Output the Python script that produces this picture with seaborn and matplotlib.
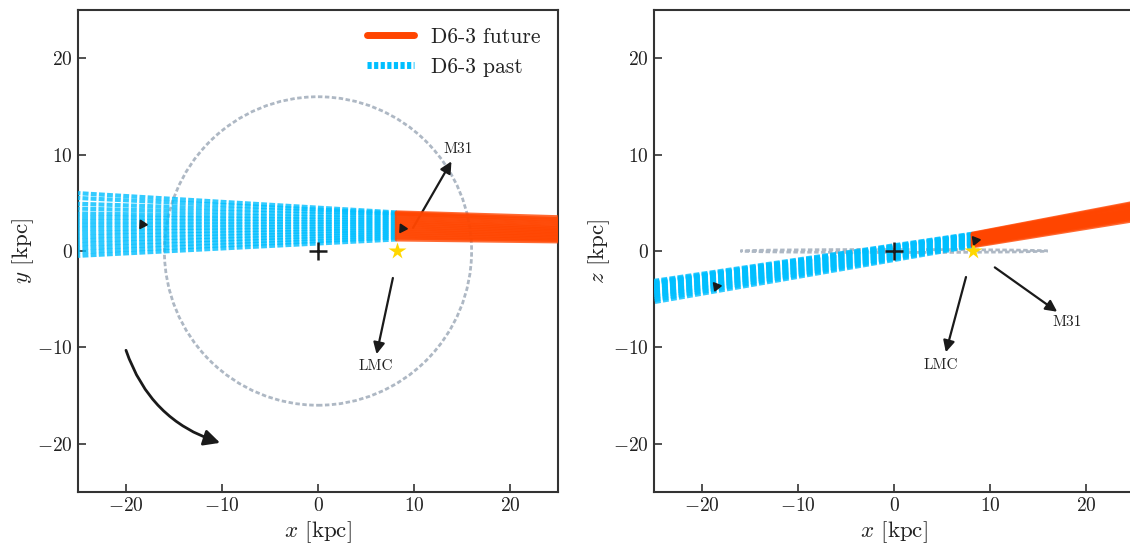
import numpy as np
import pandas as pd
import seaborn as sns
import matplotlib.pyplot as plt
from matplotlib.lines import Line2D
from matplotlib.patches import Ellipse


# ------------------------------------------------------------------
# Values (kpc)
# ------------------------------------------------------------------
x_now = 8.2          # present position of D6-3 along x
x_past_end = -25.0   # where the past orbits leave the frame
x_future_end = 25.0  # where the future orbits leave the frame

# x-y plane : y at present / at x=-25 (past) / at x=25 (future)
xy_now = [1.2, 1.4, 1.6, 1.8, 2.0, 2.2, 2.4, 2.6, 2.8, 3.0, 3.2, 3.4, 3.6, 3.8, 3.9, 4.0]
xy_back = [-0.5, -0.1, 0.3, 0.7, 1.1, 1.5, 1.9, 2.3, 2.7, 3.1, 3.5, 3.9, 4.4, 4.9, 5.5, 6.0]
xy_ahead = [1.0, 1.15, 1.3, 1.45, 1.6, 1.75, 1.9, 2.05, 2.2, 2.35, 2.5, 2.7, 2.9, 3.1, 3.3, 3.5]

# x-z plane
xz_now = [0.5, 0.6, 0.7, 0.8, 0.9, 1.0, 1.1, 1.2, 1.3, 1.4, 1.5, 1.6, 1.65, 1.7, 1.75, 1.8]
xz_back = [-5.3, -5.1, -4.9, -4.75, -4.6, -4.45, -4.3, -4.15, -4.0, -3.85, -3.7, -3.55, -3.4, -3.3, -3.2, -3.1]
xz_ahead = [3.2, 3.35, 3.5, 3.6, 3.7, 3.8, 3.9, 4.0, 4.1, 4.2, 4.3, 4.45, 4.6, 4.75, 4.9, 5.0]

# direction markers (x, y, angle of travel in deg)
xy_dirs = [(-18.3, 2.8, -3.5), (8.7, 2.4, -3.5)]
xz_dirs = [(-18.5, -3.6, 8.5), (8.4, 1.15, 8.5)]

disk_radius = 16.0
disk_half_thickness = 0.15
sun = (8.2, 0.0)

# arrows: (start, end, label position, label)
xy_arrows = [((9.9, 2.4), (13.9, 9.3), (14.6, 10.6), "M31"),
             ((7.8, -2.8), (6.1, -10.7), (6.0, -11.9), "LMC")]
xz_arrows = [((7.5, -2.7), (5.4, -10.5), (4.9, -11.8), "LMC"),
             ((10.5, -1.7), (17.0, -6.3), (18.0, -7.4), "M31")]
rotation_arrow = ((-20.0, -10.3), (-10.2, -19.9))

c_future = "#ff4500"
c_past = "#00bfff"
c_disk = "#aeb8c4"
c_text = "#222222"


def orbit_frame(x0, x1, y0, y1):
    rows = []
    for i, (a, b) in enumerate(zip(y0, y1)):
        rows.append({"sample": i, "x": x0, "y": a})
        rows.append({"sample": i, "x": x1, "y": b})
    return pd.DataFrame(rows)


sns.set_theme(style="ticks")
plt.rcParams["font.family"] = "serif"
plt.rcParams["font.serif"] = ["cmr10", "DejaVu Serif"]
plt.rcParams["mathtext.fontset"] = "cm"
plt.rcParams["axes.formatter.use_mathtext"] = True

fig = plt.figure(figsize=(11.3, 5.45), dpi=100)
ax1 = fig.add_axes([78 / 1130, 53 / 545, 480 / 1130, 482 / 545])
ax2 = fig.add_axes([654 / 1130, 53 / 545, 480 / 1130, 482 / 545])

panels = [
    (ax1, xy_now, xy_back, xy_ahead, xy_dirs, xy_arrows, "$y$ [kpc]", disk_radius * 2),
    (ax2, xz_now, xz_back, xz_ahead, xz_dirs, xz_arrows, "$z$ [kpc]", disk_half_thickness * 2),
]

for ax, now, back, ahead, dirs, arrows, ylab, disk_h in panels:
    # disk outline
    ax.add_patch(Ellipse((0, 0), disk_radius * 2, disk_h, fill=False,
                         ec=c_disk, lw=2, ls=(0, (1.6, 0.9)), zorder=1))

    for start, end, lpos, lab in arrows:
        ax.annotate("", xy=end, xytext=start,
                    arrowprops=dict(arrowstyle="-|>", color="k", lw=1.6,
                                    mutation_scale=17, shrinkA=0, shrinkB=0),
                    zorder=2)
        ax.text(lpos[0], lpos[1], lab, ha="center", va="center", fontsize=11,
                color=c_text)

    past = orbit_frame(x_now, x_past_end, now, back)
    future = orbit_frame(x_now, x_future_end, now, ahead)
    sns.lineplot(data=past, x="x", y="y", units="sample", estimator=None, sort=False,
                 color=c_past, lw=3, alpha=0.8, ls=(0, (1.4, 0.55)),
                 ax=ax, legend=False, zorder=3)
    sns.lineplot(data=future, x="x", y="y", units="sample", estimator=None, sort=False,
                 color=c_future, lw=3, alpha=0.8, ax=ax, legend=False, zorder=3)

    for xd, yd, ang in dirs:
        ax.plot(xd, yd, marker=(3, 0, ang - 90), color="k", ms=7, zorder=6)

    ax.plot(0, 0, marker="+", color="k", ms=13, mew=1.8, zorder=5)
    ax.plot(*sun, marker="*", color="#ffd700", ms=13, mec="none", zorder=5)

    ax.set_xlim(-25, 25)
    ax.set_ylim(-25, 25)
    ax.set_xticks([-20, -10, 0, 10, 20])
    ax.set_yticks([-20, -10, 0, 10, 20])
    ax.tick_params(direction="in", length=6, width=1.2, labelsize=14,
                   colors="#333333", labelcolor=c_text)
    for sp in ax.spines.values():
        sp.set_color("#333333")
        sp.set_linewidth(1.5)
    ax.set_xlabel("$x$ [kpc]", fontsize=16.5, color=c_text, labelpad=3)
    ax.set_ylabel(ylab, fontsize=16.5, color=c_text, labelpad=1)

# sense of Galactic rotation
ax1.annotate("", xy=rotation_arrow[1], xytext=rotation_arrow[0],
             arrowprops=dict(arrowstyle="-|>", color="k", lw=2, mutation_scale=24,
                             shrinkA=0, shrinkB=0, connectionstyle="arc3,rad=0.25"))

handles = [Line2D([], [], color=c_future, lw=5, solid_capstyle="round"),
           Line2D([], [], color=c_past, lw=5, ls=(0, (0.6, 0.35)))]
ax1.legend(handles, ["D6-3 future", "D6-3 past"], loc="upper right", frameon=False,
           fontsize=15.5, handlelength=2.2, borderaxespad=0.4, labelcolor=c_text)

fig.savefig("out.png", dpi=100)
